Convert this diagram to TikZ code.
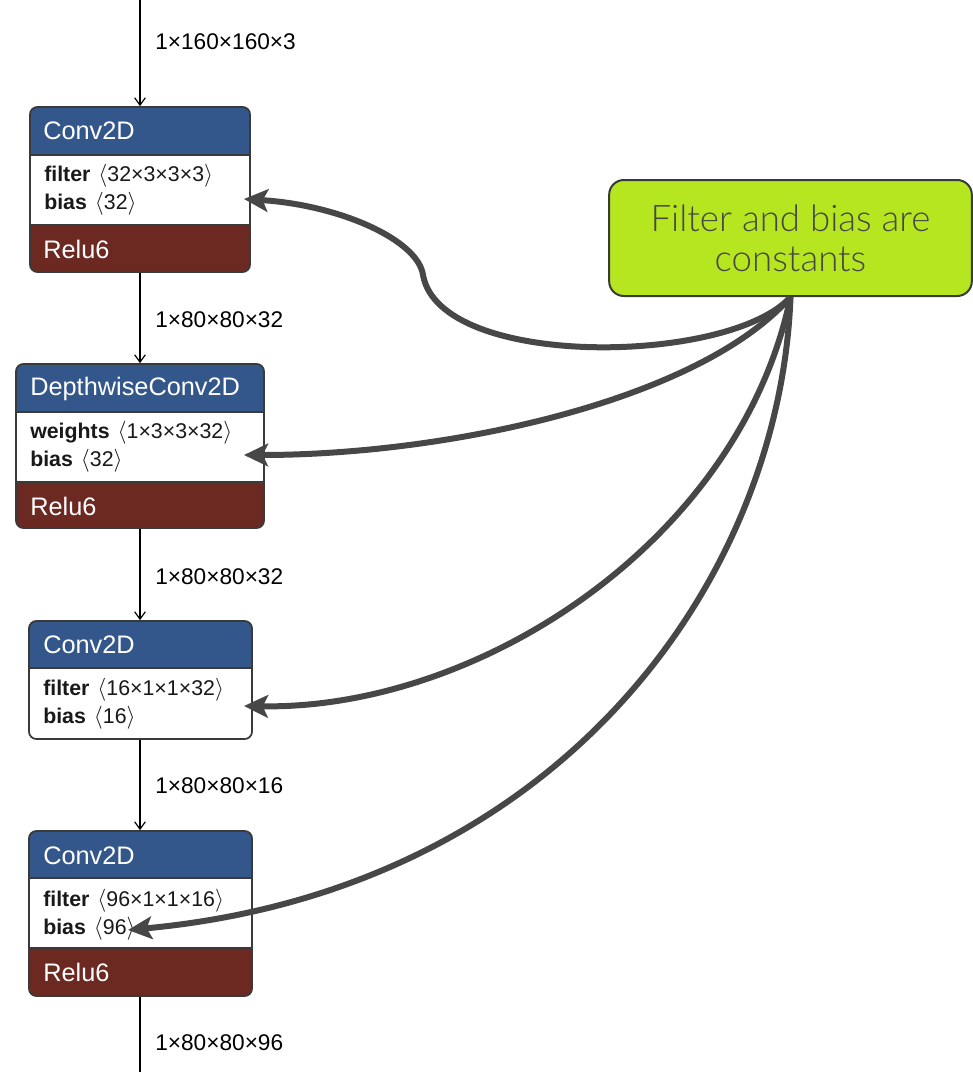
\documentclass[tikz,border=0pt]{standalone}
\usepackage{fontspec}
\usepackage{tikz}
\setmainfont{Liberation Sans}
\newfontfamily\notefont{Lato Light}
\usetikzlibrary{arrows.meta,fit}
\definecolor{opblue}{HTML}{33578A}
\definecolor{opred}{HTML}{6B2921}
\definecolor{opline}{HTML}{3A3A3A}
\definecolor{notegreen}{HTML}{B6E61F}
\definecolor{notegray}{HTML}{474747}
\newcommand{\shp}[1]{\hspace{6pt}\ensuremath{\langle}#1\ensuremath{\rangle}}

\begin{document}
\begin{tikzpicture}[x=0.75pt,y=-0.75pt,
  opframe/.style={draw=opline,line width=1.3pt,rounded corners=5.5pt,inner sep=0pt},
  optitle/.style={anchor=west,inner sep=0pt,text=white,font=\fontsize{19}{21}\selectfont},
  opattr/.style={anchor=west,inner sep=0pt,text=black!90,font=\fontsize{16}{18}\selectfont},
  dimlabel/.style={anchor=west,inner sep=0pt,font=\fontsize{17}{19}\selectfont},
  flow/.style={line width=0.9pt,-{Straight Barb[length=5.5pt,width=8pt]}},
  constarrow/.style={draw=notegray,line width=4.5pt,-{Stealth[length=18pt,width=17pt,inset=4pt]}},
  note/.style={draw=opline,line width=1.5pt,fill=notegreen,rounded corners=11pt,align=center,
    minimum width=272pt,minimum height=87pt,text=notegray,font=\notefont\fontsize{27.5}{30}\selectfont}]
\useasboundingbox (0,0) rectangle (973,1072);
% operator boxes:
\begin{scope}
\clip[rounded corners=5.5pt] (30,107) rectangle (250,272);
\path[fill=opblue] (30,107) rectangle (250,155);
\path[fill=white] (30,155) rectangle (250,225);
\path[fill=opred] (30,225) rectangle (250,272);
\end{scope}
\path[draw=opline,line width=1pt] (30,155) -- (250,155) (30,225) -- (250,225);
\node[opframe,fit={(30,107) (250,272)}] (conv1) {};
\node[optitle] (conv1-t) at (43,131) {Conv2D};
\node[opattr] (conv1-a) at (44,176) {\textbf{filter}\shp{32×3×3×3}};
\node[opattr] (conv1-b) at (44,204) {\textbf{bias}\shp{32}};
\node[optitle] (conv1-r) at (43,249) {Relu6};

\begin{scope}
\clip[rounded corners=5.5pt] (16,364) rectangle (264,528);
\path[fill=opblue] (16,364) rectangle (264,412);
\path[fill=white] (16,412) rectangle (264,482);
\path[fill=opred] (16,482) rectangle (264,528);
\end{scope}
\path[draw=opline,line width=1pt] (16,412) -- (264,412) (16,482) -- (264,482);
\node[opframe,fit={(16,364) (264,528)}] (dw1) {};
\node[optitle] (dw1-t) at (30,389) {DepthwiseConv2D};
\node[opattr] (dw1-a) at (30,433) {\textbf{weights}\shp{1×3×3×32}};
\node[opattr] (dw1-b) at (30,461) {\textbf{bias}\shp{32}};
\node[optitle] (dw1-r) at (30,506) {Relu6};

\begin{scope}
\clip[rounded corners=5.5pt] (29,621) rectangle (252,739);
\path[fill=opblue] (29,621) rectangle (252,668);
\path[fill=white] (29,668) rectangle (252,739);
\end{scope}
\path[draw=opline,line width=1pt] (29,668) -- (252,668);
\node[opframe,fit={(29,621) (252,739)}] (conv2) {};
\node[optitle] (conv2-t) at (43,645) {Conv2D};
\node[opattr] (conv2-a) at (43,690) {\textbf{filter}\shp{16×1×1×32}};
\node[opattr] (conv2-b) at (43,718) {\textbf{bias}\shp{16}};

\begin{scope}
\clip[rounded corners=5.5pt] (29,831) rectangle (252,996);
\path[fill=opblue] (29,831) rectangle (252,878);
\path[fill=white] (29,878) rectangle (252,948);
\path[fill=opred] (29,948) rectangle (252,996);
\end{scope}
\path[draw=opline,line width=1pt] (29,878) -- (252,878) (29,948) -- (252,948);
\node[opframe,fit={(29,831) (252,996)}] (conv3) {};
\node[optitle] (conv3-t) at (43,856) {Conv2D};
\node[opattr] (conv3-a) at (43,901) {\textbf{filter}\shp{96×1×1×16}};
\node[opattr] (conv3-b) at (43,929) {\textbf{bias}\shp{96}};
\node[optitle] (conv3-r) at (43,972) {Relu6};

% tensor flow:
\coordinate (input) at (140,0);
\coordinate (output) at (140,1072);
\draw[flow] (input) -- (input |- conv1.north);
\draw[flow] (input |- conv1.south) -- (input |- dw1.north);
\draw[flow] (input |- dw1.south) -- (input |- conv2.north);
\draw[flow] (input |- conv2.south) -- (input |- conv3.north);
\draw[line width=0.9pt] (input |- conv3.south) -- (output);
\node[dimlabel] (d0) at (155,42) {1×160×160×3};
\node[dimlabel] (d1) at (155,320) {1×80×80×32};
\node[dimlabel] (d2) at (155,577) {1×80×80×32};
\node[dimlabel] (d3) at (155,786) {1×80×80×16};
\node[dimlabel] (d4) at (155,1043) {1×80×80×96};

% callout:
\node[note] (note) at (790.5,238) {Filter and bias are\\constants};
\coordinate (conv1-in) at (244,199);
\coordinate (dw1-in) at (244,455);
\coordinate (conv2-in) at (244,706);
\coordinate (conv3-in) at (128,930);
\draw[constarrow] (note.south) .. controls (730,365) and (440,370) .. (423,275)
  .. controls (418,240) and (340,205) .. (conv1-in);
\draw[constarrow] (note.south) .. controls (700,400) and (450,455) .. (dw1-in);
\draw[constarrow] (note.south) .. controls (740,540) and (480,710) .. (conv2-in);
\draw[constarrow] (note.south) .. controls (780,580) and (560,890) .. (conv3-in);
\end{tikzpicture}
\end{document}
